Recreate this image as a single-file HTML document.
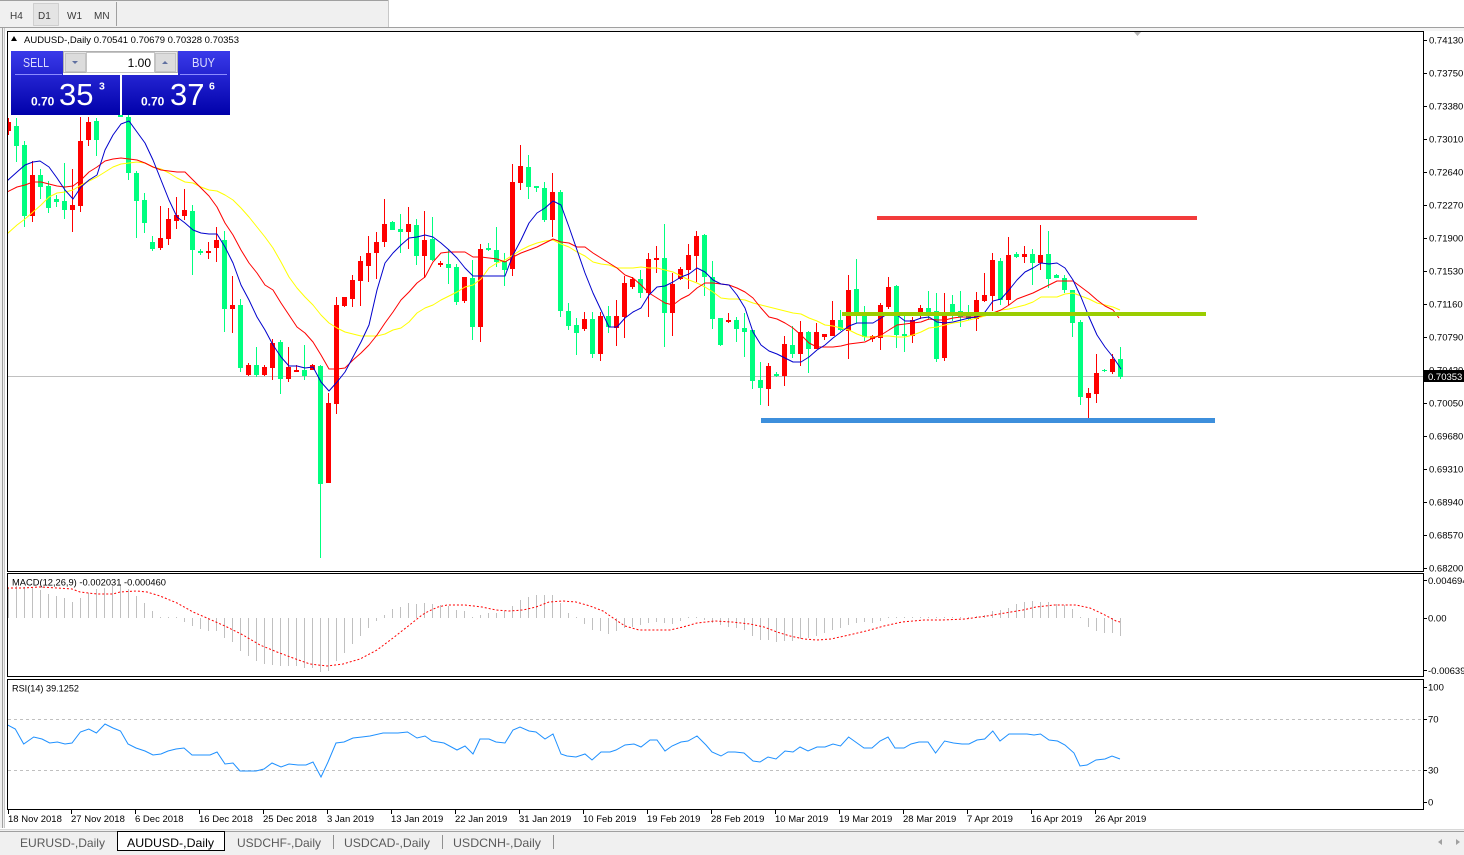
<!DOCTYPE html>
<html><head><meta charset="utf-8">
<style>
html,body{margin:0;padding:0;background:#fff;width:1464px;height:855px;overflow:hidden}
svg{display:block}
text{font-family:"Liberation Sans",Arial,sans-serif}
</style></head><body>
<svg id="s" width="1464" height="855" viewBox="0 0 1464 855" xmlns="http://www.w3.org/2000/svg">
<defs>
<linearGradient id="bl" gradientUnits="userSpaceOnUse" x1="0" y1="51" x2="0" y2="115">
<stop offset="0" stop-color="#3a3aea"/><stop offset="1" stop-color="#0000aa"/></linearGradient>
<clipPath id="cm"><rect x="8" y="32" width="1415" height="539"/></clipPath>
<clipPath id="cmacd"><rect x="8" y="574" width="1415" height="102"/></clipPath>
<clipPath id="crsi"><rect x="8" y="680" width="1415" height="129"/></clipPath>
</defs>

<!-- backgrounds -->
<rect x="0" y="0" width="1464" height="855" fill="#fff"/>
<rect x="0" y="0" width="389" height="27" fill="#f0f0f0"/>
<line x1="0" y1="0.5" x2="389" y2="0.5" stroke="#a0a0a0"/>
<line x1="388.5" y1="0" x2="388.5" y2="27" stroke="#c8c8c8"/>
<line x1="0" y1="27.5" x2="1464" y2="27.5" stroke="#a0a0a0"/>
<rect x="0" y="28" width="1464" height="3" fill="#f4f4f4"/>
<rect x="0" y="28" width="5" height="800" fill="#f0f0f0"/>
<line x1="2.5" y1="28" x2="2.5" y2="828" stroke="#a0a0a0"/>
<line x1="4.5" y1="28" x2="4.5" y2="828" stroke="#c8c8c8"/>

<!-- toolbar -->
<rect x="33.5" y="3.5" width="25" height="22" fill="#e4e4e4" stroke="#b4b4b4" stroke-dasharray="1 1"/>
<line x1="116.5" y1="2" x2="116.5" y2="26" stroke="#a0a0a0"/>
<g font-size="10" fill="#3a3a3a">
<text x="10" y="19">H4</text><text x="38" y="19">D1</text><text x="67" y="19">W1</text><text x="94" y="19">MN</text>
</g>

<!-- frames -->
<rect x="7.5" y="31.5" width="1416" height="540" fill="#fff" stroke="#000"/>
<rect x="7.5" y="573.5" width="1416" height="103" fill="#fff" stroke="#000"/>
<rect x="7.5" y="679.5" width="1416" height="130" fill="#fff" stroke="#000"/>

<polygon points="1134,32 1141,32 1137.5,36" fill="#b4b4b4"/>

<!-- current price line -->
<line x1="8" y1="376.5" x2="1423" y2="376.5" stroke="#c0c0c0"/>

<g clip-path="url(#cm)">
<g id="cg" fill="#00ff7f"></g>
<g id="cr" fill="#ff0000"></g>
<g fill="none" stroke-width="1" stroke-linejoin="round">
<polyline stroke="#ffff00" points="7,234 17,225 25,219 33,212 41,205 49,197 57,193 65,192 73,190 81,185 89,181 97,177 105,172 113,167 121,164 129,163 137,162 145,163 153,167 161,169 169,173 177,178 185,182 193,183 201,187 209,190 217,191 225,195 233,200 241,208 249,217 257,227 265,237 273,248 281,262 289,277 297,288 305,297 313,305 321,315 329,323 337,328 345,332 353,334 361,336 369,336 377,336 385,334 393,330 401,328 409,322 417,313 425,308 433,305 441,300 449,296 457,292 465,287 473,285 481,279 489,268 497,263 505,260 513,255 521,250 529,246 537,243 545,241 553,240 561,244 569,247 577,252 585,256 593,262 601,264 609,265 617,268 625,268 633,268 641,267 649,268 657,268 665,270 673,272 681,276 689,280 697,283 705,287 713,292 721,298 729,299 737,299 745,300 753,303 761,305 769,307 777,309 785,311 793,313 801,314 809,318 817,321 825,325 833,326 841,328 849,330 857,334 865,337 873,337 881,336 889,336 897,337 905,337 913,335 921,332 929,328 937,327 945,325 953,323 961,322 969,320 977,318 985,316 993,313 1001,310 1009,309 1017,307 1025,305 1033,302 1041,297 1049,297 1057,297 1065,294 1073,293 1081,296 1089,299 1097,303 1105,305 1113,307 1120,310"/>
<polyline stroke="#ff0000" points="7,192 17,187 25,185 33,182 41,182 49,184 57,186 65,187 73,186 81,180 89,172 97,167 105,161 113,159 121,158 129,159 137,160 145,163 153,167 161,170 169,171 177,172 185,172 193,180 201,188 209,196 217,207 225,223 233,235 241,250 249,263 257,273 265,285 273,290 281,303 289,315 297,327 305,333 313,342 321,355 329,369 337,369 345,368 353,360 361,353 369,345 377,335 385,323 393,312 401,300 409,292 417,283 425,277 433,262 441,253 449,252 457,252 465,252 473,257 481,257 489,258 497,259 505,262 513,257 521,253 529,250 537,247 545,243 553,239 561,242 569,243 577,247 585,247 593,253 601,258 609,263 617,268 625,275 633,278 641,285 649,293 657,298 665,303 673,305 681,299 689,295 697,288 705,283 713,283 721,284 729,285 737,288 745,292 753,298 761,308 769,317 777,319 785,323 793,328 801,335 809,343 817,347 825,347 833,347 841,346 849,344 857,343 865,342 873,338 881,335 889,330 897,325 905,324 913,323 921,322 929,319 937,320 945,320 953,318 961,317 969,317 977,317 985,315 993,313 1001,310 1009,305 1017,299 1025,296 1033,293 1041,289 1049,285 1057,281 1065,281 1073,281 1081,287 1089,293 1097,300 1105,306 1113,310 1119,318"/>
<polyline stroke="#0000cd" points="7,181 17,172 25,165 33,162 40,161 49,167 57,178 65,190 73,199 81,187 89,180 97,175 105,150 113,135 121,124 129,121 137,132 145,143 153,160 161,180 169,200 177,217 185,223 193,230 201,233 209,234 217,234 225,247 233,263 241,285 249,300 257,317 265,330 273,345 281,357 289,366 297,366 305,368 313,367 321,382 329,391 337,382 345,372 353,357 361,342 369,325 377,290 385,263 393,253 401,245 409,238 417,237 425,235 433,237 441,243 449,250 457,258 465,268 473,276 481,276 489,276 497,276 505,276 513,255 521,240 529,223 537,213 545,208 553,201 561,205 569,227 577,250 585,273 593,293 601,310 609,327 617,327 625,318 633,312 641,308 649,295 657,287 665,286 673,282 681,277 689,274 697,268 705,272 713,280 721,284 729,285 737,295 745,308 753,332 761,345 769,351 777,354 785,358 793,362 801,362 809,357 817,350 825,345 833,338 841,332 849,326 857,323 865,323 873,323 881,318 889,313 897,315 905,321 913,321 921,318 929,317 937,322 945,323 953,322 961,320 969,318 977,317 985,312 993,301 1001,299 1009,290 1017,280 1025,272 1033,268 1041,263 1049,264 1057,263 1065,268 1073,280 1081,297 1089,317 1097,335 1105,347 1113,357 1121,369"/>
</g>
<!-- horizontal levels -->
<rect x="877" y="216" width="320" height="4" fill="#f23b3b"/>
<rect x="842" y="312" width="364" height="4" fill="#9acd00"/>
<rect x="761" y="418" width="454" height="5" fill="#3d8fdc"/>
</g>

<!-- header -->
<polygon points="11,41 17,41 14,36" fill="#000"/>
<text x="24" y="43" font-size="9.5" fill="#000" textLength="215" lengthAdjust="spacingAndGlyphs">AUDUSD-,Daily  0.70541 0.70679 0.70328 0.70353</text>

<!-- trade panel -->
<rect x="11" y="51" width="219" height="64" fill="#fff"/>
<path d="M11,51 H63 V75 H120 V115 H11 Z" fill="url(#bl)"/>
<path d="M178,51 H230 V115 H122 V75 H178 Z" fill="url(#bl)"/>
<line x1="15" y1="74.5" x2="62" y2="74.5" stroke="#8c8cff"/>
<line x1="180" y1="74.5" x2="227" y2="74.5" stroke="#8c8cff"/>
<rect x="63.5" y="51.5" width="114" height="21" fill="#e6e6e6" stroke="#b0b0b0"/>
<rect x="65.5" y="53.5" width="20" height="18" fill="#dcdcdc" stroke="#c4c4c4"/>
<rect x="86.5" y="52.5" width="68" height="20" fill="#fff" stroke="#c4c4c4"/>
<rect x="155.5" y="53.5" width="20" height="18" fill="#dcdcdc" stroke="#c4c4c4"/>
<polygon points="72,61 78,61 75,64" fill="#6070a0"/>
<polygon points="162,64 168,64 165,61" fill="#6070a0"/>
<text x="151" y="67" font-size="12" fill="#000" text-anchor="end">1.00</text>
<text x="23" y="67" font-size="12.5" fill="#dcdcff" textLength="26" lengthAdjust="spacingAndGlyphs">SELL</text>
<text x="192" y="67" font-size="12.5" fill="#dcdcff" textLength="23" lengthAdjust="spacingAndGlyphs">BUY</text>
<g fill="#fff">
<text x="31" y="105.5" font-size="12" font-weight="bold">0.70</text>
<text x="59" y="105" font-size="31">35</text>
<text x="99" y="89.5" font-size="10.5" font-weight="bold">3</text>
<text x="141" y="105.5" font-size="12" font-weight="bold">0.70</text>
<text x="170" y="105" font-size="31">37</text>
<text x="209" y="89.5" font-size="10.5" font-weight="bold">6</text>
</g>

<!-- price axis -->
<g stroke="#000" id="pt"></g>
<g font-size="9.5" fill="#000">
<text x="1429" y="43.5">0.74130</text>
<text x="1429" y="76.5">0.73750</text>
<text x="1429" y="109.5">0.73380</text>
<text x="1429" y="142.5">0.73010</text>
<text x="1429" y="175.5">0.72640</text>
<text x="1429" y="208.5">0.72270</text>
<text x="1429" y="241.5">0.71900</text>
<text x="1429" y="274.5">0.71530</text>
<text x="1429" y="307.5">0.71160</text>
<text x="1429" y="340.5">0.70790</text>
<text x="1429" y="373.5">0.70420</text>
<text x="1429" y="406.5">0.70050</text>
<text x="1429" y="439.5">0.69680</text>
<text x="1429" y="472.5">0.69310</text>
<text x="1429" y="505.5">0.68940</text>
<text x="1429" y="538.5">0.68570</text>
<text x="1429" y="571.5">0.68200</text>
</g>
<rect x="1424" y="370" width="40" height="12" fill="#000"/>
<text x="1428" y="380" font-size="9.5" fill="#fff">0.70353</text>

<!-- MACD -->
<g clip-path="url(#cmacd)">
<path id="hist" stroke="#c0c0c0" stroke-width="1" fill="none"/>
<polyline fill="none" stroke="#ff0000" stroke-dasharray="2 2" points="7,588 23,588 40,587 57,588 72,589 80,592 97,594 113,594 120,592 137,591 147,592 160,596 177,603 193,612 207,618 227,627 243,635 260,645 277,652 293,658 310,664 327,666 343,664 360,659 377,650 393,638 407,627 422,615 429,611 438,607 447,605 465,605 482,607 496,610 509,611 523,610 536,607 549,602 563,601 576,602 590,606 603,611 616,620 625,626 639,630 652,630 670,630 683,627 697,623 715,621 732,622 750,624 764,627 777,632 790,636 804,639 817,640 831,639 849,635 866,631 884,626 902,622 924,620 942,620 965,619 987,616 1005,613 1023,610 1036,607 1054,605 1076,605 1090,608 1103,614 1116,621 1120,622"/>
</g>
<text x="12" y="585.5" font-size="9.5" fill="#000" textLength="154" lengthAdjust="spacingAndGlyphs">MACD(12,26,9) -0.002031 -0.000460</text>
<g font-size="9.5" fill="#000">
<text x="1428" y="584">0.004694</text>
<text x="1428" y="621.5">0.00</text>
<text x="1428" y="674">-0.00639</text>
</g>

<!-- RSI -->
<line x1="8" y1="719.5" x2="1423" y2="719.5" stroke="#c0c0c0" stroke-dasharray="3 3"/>
<line x1="8" y1="770.5" x2="1423" y2="770.5" stroke="#c0c0c0" stroke-dasharray="3 3"/>
<g clip-path="url(#crsi)">
<polyline fill="none" stroke="#1e90ff" stroke-width="1" points="7.7,725 15.3,729 23.7,744 33.7,737 42,739 49.7,743 57.4,742 65,744 72,743 80.4,732 88.8,729 96.4,733 105,724 113,728 120.5,731 128,744 136,748 145,751 153,755 161,754 168,751 176,749 184,748 192,755 201,755 210,755 217,752 225,764 233,763 240,771 249,771 256,771 264,769 272,763 281,767 289,764 298,765 306,765 313,762 321,777 328,762 336,743 344,742 353,738 362,737 370,736 383,733 398,733 407.5,732 417,738 425,736 432,741 444,743 457,750 465,746 473,754 480,739 489,739 496,742 505,743 513,730 520,727 529,731 536,732 545,739 553,734 561,754 567,756 576,757 585,754 592,760 601,752 610,752 616,750 625,745 634,744 641,747 650,740 657,740 665,751 672,746 681,742 688,741 697,736 706,745 712,752 721,756 728,752 735,752 744,753 753,761 760,762 768,757 776,759 785,751 793,752 800,747 808,751 817,747 825,747 833,744 840.5,746 848.6,737 857,743 864,748 872,748 880,741 888,737 895,748 904,748 911,744 919,742 928,742 935.6,753 944.6,741 953.5,743 962,744 969,744 977,740 984.7,739 992.8,731 1000,741 1009,734 1018,734 1027,734 1034,735 1040.5,734 1049,740 1057.5,741 1065,745 1074,753 1080,766 1087,765 1096,760 1105,759 1112,756 1120,759"/>
</g>
<text x="12" y="691.5" font-size="9.5" fill="#000" textLength="67" lengthAdjust="spacingAndGlyphs">RSI(14) 39.1252</text>
<g font-size="9.5" fill="#000">
<text x="1428" y="690.5">100</text>
<text x="1428" y="722.5">70</text>
<text x="1428" y="773.5">30</text>
<text x="1428" y="805.5">0</text>
</g>
<g stroke="#000">
<line x1="1424" y1="580.5" x2="1427" y2="580.5"/><line x1="1424" y1="618.5" x2="1427" y2="618.5"/><line x1="1424" y1="670.5" x2="1427" y2="670.5"/>
<line x1="1424" y1="687.5" x2="1427" y2="687.5"/><line x1="1424" y1="719.5" x2="1427" y2="719.5"/><line x1="1424" y1="770.5" x2="1427" y2="770.5"/><line x1="1424" y1="802.5" x2="1427" y2="802.5"/>
</g>

<!-- time axis -->
<g id="tt" stroke="#000"></g>
<g font-size="9.5" fill="#000">
<text x="8" y="822">18 Nov 2018</text>
<text x="71" y="822">27 Nov 2018</text>
<text x="135" y="822">6 Dec 2018</text>
<text x="199" y="822">16 Dec 2018</text>
<text x="263" y="822">25 Dec 2018</text>
<text x="327" y="822">3 Jan 2019</text>
<text x="391" y="822">13 Jan 2019</text>
<text x="455" y="822">22 Jan 2019</text>
<text x="519" y="822">31 Jan 2019</text>
<text x="583" y="822">10 Feb 2019</text>
<text x="647" y="822">19 Feb 2019</text>
<text x="711" y="822">28 Feb 2019</text>
<text x="775" y="822">10 Mar 2019</text>
<text x="839" y="822">19 Mar 2019</text>
<text x="903" y="822">28 Mar 2019</text>
<text x="967" y="822">7 Apr 2019</text>
<text x="1031" y="822">16 Apr 2019</text>
<text x="1095" y="822">26 Apr 2019</text>
</g>

<!-- tabs -->
<rect x="0" y="829" width="1464" height="26" fill="#f0f0f0"/>
<line x1="0" y1="829.5" x2="1464" y2="829.5" stroke="#d8d8d8"/>
<line x1="0" y1="831.5" x2="1464" y2="831.5" stroke="#a0a0a0"/>
<rect x="117.5" y="831.5" width="107" height="19" fill="#fff" stroke="#000"/>
<g font-size="12" fill="#5a5a5a">
<text x="20" y="847" textLength="85" lengthAdjust="spacingAndGlyphs">EURUSD-,Daily</text>
<text x="127" y="847" fill="#000" textLength="87" lengthAdjust="spacingAndGlyphs">AUDUSD-,Daily</text>
<text x="237" y="847" textLength="84" lengthAdjust="spacingAndGlyphs">USDCHF-,Daily</text>
<text x="344" y="847" textLength="86" lengthAdjust="spacingAndGlyphs">USDCAD-,Daily</text>
<text x="453" y="847" textLength="88" lengthAdjust="spacingAndGlyphs">USDCNH-,Daily</text>
</g>
<g stroke="#909090">
<line x1="333.5" y1="835" x2="333.5" y2="849"/><line x1="442.5" y1="835" x2="442.5" y2="849"/><line x1="553.5" y1="835" x2="553.5" y2="849"/>
</g>
<polygon points="1442,839 1442,845 1438,842" fill="#a0a0a0"/>
<polygon points="1456,839 1456,845 1460,842" fill="#a0a0a0"/>
</svg>
<script>
(function(){
var C=[[1,118,122,131,135,'r'],[2,118,126,146,162,'g'],[3,141,145,216,227,'g'],[4,161,175,216,222,'r'],[5,169,175,187,199,'g'],[6,181,186,208,213,'g'],[7,195,199,202,207,'g'],[8,163,201,210,219,'g'],[9,169,205,210,232,'r'],[10,117,141,206,212,'r'],[11,117,122,140,146,'r'],[12,118,121,140,156,'g'],[13,90,95,105,108,'r'],[14,85,90,100,105,'g'],[15,100,105,117,117,'g'],[16,105,117,173,180,'g'],[17,171,173,201,238,'g'],[18,193,200,223,233,'g'],[19,236,242,249,251,'g'],[20,206,238,248,250,'r'],[21,208,219,239,245,'r'],[22,197,215,221,229,'r'],[23,189,210,216,220,'r'],[24,205,211,250,275,'g'],[25,249,251,253,255,'g'],[26,242,251,253,259,'r'],[27,227,240,248,262,'r'],[28,231,240,309,332,'g'],[29,276,305,309,333,'r'],[30,299,305,368,372,'g'],[31,363,365,375,376,'r'],[32,347,365,375,377,'g'],[33,365,367,375,376,'r'],[34,339,343,368,380,'r'],[35,340,342,379,394,'g'],[36,347,367,379,382,'r'],[37,365,370,372,372,'r'],[38,345,370,376,380,'g'],[39,364,365,370,370,'r'],[40,365,366,484,558,'g'],[41,393,403,483,483,'r'],[42,297,305,404,414,'r'],[43,297,297,306,307,'r'],[44,275,280,299,307,'r'],[45,256,261,281,306,'r'],[46,236,253,266,282,'r'],[47,232,242,253,279,'r'],[48,199,224,242,247,'r'],[49,221,222,230,230,'g'],[50,214,229,232,253,'g'],[51,207,224,232,249,'r'],[52,219,225,256,265,'g'],[53,211,240,256,278,'r'],[54,217,239,260,261,'g'],[55,261,263,265,267,'r'],[56,249,264,268,284,'g'],[57,264,267,302,305,'g'],[58,277,277,301,303,'r'],[59,260,278,327,340,'g'],[60,244,249,327,342,'r'],[61,243,248,250,251,'g'],[62,227,250,262,267,'g'],[63,253,261,270,286,'g'],[64,164,182,269,276,'r'],[65,145,166,183,190,'r'],[66,155,167,187,199,'g'],[67,186,186,188,192,'g'],[68,182,188,220,222,'g'],[69,173,192,220,237,'r'],[70,190,192,311,317,'g'],[71,303,311,326,330,'g'],[72,318,325,333,355,'g'],[73,312,319,329,331,'r'],[74,312,319,354,358,'g'],[75,312,316,354,361,'r'],[76,306,316,327,333,'g'],[77,300,316,328,346,'r'],[78,276,283,317,338,'r'],[79,277,279,287,289,'r'],[80,270,279,293,298,'g'],[81,253,259,293,317,'r'],[82,246,258,260,273,'r'],[83,224,258,313,347,'g'],[84,273,284,313,336,'r'],[85,267,269,279,280,'r'],[86,244,255,270,289,'r'],[87,231,236,256,282,'r'],[88,234,235,277,296,'g'],[89,261,277,319,329,'g'],[90,318,318,345,346,'g'],[91,313,320,322,323,'r'],[92,317,320,329,342,'g'],[93,313,328,332,357,'g'],[94,330,330,381,389,'g'],[95,362,380,388,405,'g'],[96,363,366,389,406,'r'],[97,372,374,376,377,'g'],[98,336,344,376,386,'r'],[99,326,345,354,358,'g'],[100,321,332,354,366,'r'],[101,331,332,349,373,'g'],[102,323,332,349,349,'r'],[103,334,334,337,340,'r'],[104,301,320,336,336,'r'],[105,310,320,330,331,'g'],[106,275,290,331,359,'r'],[107,259,289,314,323,'g'],[108,306,314,337,341,'g'],[109,335,336,339,342,'r'],[110,303,305,338,350,'r'],[111,277,287,307,309,'r'],[112,285,286,335,348,'g'],[113,316,334,336,352,'g'],[114,317,320,336,343,'r'],[115,305,308,313,319,'r'],[116,291,308,313,320,'g'],[117,293,311,359,362,'g'],[118,293,313,358,361,'r'],[119,295,304,313,321,'g'],[120,291,311,317,327,'g'],[121,305,315,319,320,'g'],[122,292,300,319,331,'r'],[123,273,295,301,302,'r'],[124,253,260,296,311,'r'],[125,258,261,300,305,'g'],[126,237,255,300,305,'r'],[127,252,254,257,258,'g'],[128,246,254,257,263,'r'],[129,249,254,263,285,'g'],[130,225,255,263,270,'r'],[131,231,254,279,288,'g'],[132,274,275,278,278,'g'],[133,275,278,290,293,'g'],[134,290,290,323,337,'g'],[135,320,322,397,405,'g'],[136,388,393,398,418,'r'],[137,354,373,394,403,'r'],[138,369,370,371,372,'g'],[139,354,359,372,374,'r'],[140,347,359,377,379,'g']];
var g='',r='';
for(var i=0;i<C.length;i++){var c=C[i],n=c[0],x=8*n;var h=Math.max(1,c[3]-c[2]);var wh=Math.max(1,c[4]-c[1]);
var s='<rect x="'+x+'" y="'+c[1]+'" width="1" height="'+wh+'"/><rect x="'+(x-2)+'" y="'+c[2]+'" width="5" height="'+h+'"/>';
if(c[5]=='g')g+=s;else r+=s;}
document.getElementById('cg').innerHTML=g;
document.getElementById('cr').innerHTML=r;
var H=[588,586,587,588,590,594,596,598,602,598,593,589,588,586,584,589,596,603,611,617,617,618,622,626,629,631,631,638,642,651,656,661,664,665,666,666,666,668,668,672,671,661,653,644,636,628,621,615,609,607,603,604,603,604,605,606,610,611,617,615,613,613,611,606,600,597,595,595,595,603,613,618,624,630,631,634,631,628,627,625,623,622,623,624,621,618,617,620,623,625,627,628,630,636,640,640,642,641,641,639,638,636,633,630,628,625,623,622,623,621,618,617,617,618,618,618,618,617,617,617,617,616,615,611,610,608,604,602,601,602,602,604,605,609,618,627,631,633,633,636];
var d='';
for(var k=0;k<H.length;k++){var xx=8*(k+1)+0.5;var v=H[k];if(Math.abs(v-618)<1)v=617;d+='M'+xx+' 618V'+v;}
document.getElementById('hist').setAttribute('d',d);
var pt='';var ys=[40,73,106,139,172,205,238,271,304,337,370,403,436,469,502,535,568];
for(var j=0;j<ys.length;j++){pt+='<line x1="1424" y1="'+(ys[j]+0.5)+'" x2="1427" y2="'+(ys[j]+0.5)+'"/>';}
document.getElementById('pt').innerHTML=pt;
var tt='';for(var m=0;m<18;m++){var tx=(m==0?8:7+64*m)+0.5;tt+='<line x1="'+tx+'" y1="810" x2="'+tx+'" y2="814"/>';}
document.getElementById('tt').innerHTML=tt;
})();
</script>
</body></html>
